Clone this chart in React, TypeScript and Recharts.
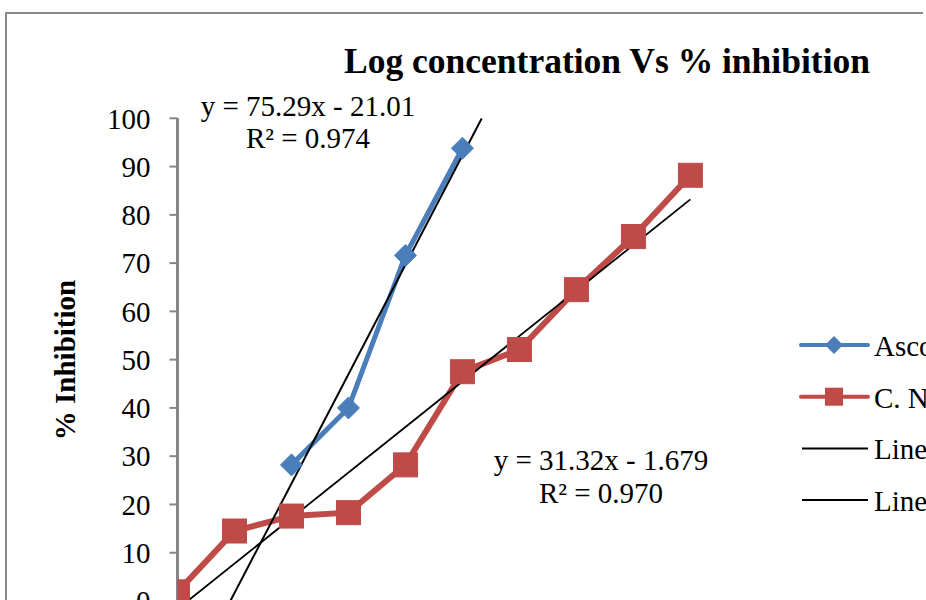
import { ComposedChart, Line, XAxis, YAxis, Legend } from 'recharts';

// log concentration (x) vs % inhibition (y)
const extractLogConc = [0, 0.301, 0.602, 0.903, 1.204, 1.505, 1.806, 2.107, 2.408, 2.709];
const extractInhibition = [1.9, 14.5, 17.6, 18.3, 28.2, 47.5, 52.1, 64.5, 75.5, 88.2];
const ascorbicLogConc = [0.602, 0.903, 1.204, 1.505];
const ascorbicInhibition = [28.2, 40.0, 71.6, 93.8];

// trendline end points
const ascorbicTrendX = [0.279, 1.607];
const ascorbicTrendY = [0, 100];
const extractTrendX = [0, 2.709];
const extractTrendY = [-1.68, 83.2];

const yTicks = [0, 10, 20, 30, 40, 50, 60, 70, 80, 90, 100];
const xTicks = [0, 0.5, 1, 1.5, 2, 2.5, 3];

const seriesNames = ['Ascorbic acid', 'C. Nucifera', 'Linear (Ascorbic acid)', 'Linear (C. Nucifera)'];
const equations = [
  ['y = 75.29x - 21.01', 'R² = 0.974'],
  ['y = 31.32x - 1.679', 'R² = 0.970'],
];

const BLUE = '#4A7EBB';
const RED = '#BE4B48';
const FONT = '"Liberation Serif", "Times New Roman", serif';

const toPoints = (xs: number[], ys: number[]) => xs.map((x, i) => ({ x, y: ys[i] }));

const ascorbicData = toPoints(ascorbicLogConc, ascorbicInhibition);
const extractData = toPoints(extractLogConc, extractInhibition);
const ascorbicTrend = toPoints(ascorbicTrendX, ascorbicTrendY);
const extractTrend = toPoints(extractTrendX, extractTrendY);

function DiamondDot(props: any) {
  const { cx, cy, index } = props;
  if (cx == null || cy == null) return null;
  const r = 11;
  return (
    <path
      key={'d' + index}
      d={`M${cx},${cy - r}L${cx + r},${cy}L${cx},${cy + r}L${cx - r},${cy}Z`}
      fill={BLUE}
      stroke={BLUE}
      strokeWidth={1}
    />
  );
}

function SquareDot(props: any) {
  const { cx, cy, index } = props;
  if (cx == null || cy == null) return null;
  const s = 24;
  return <rect key={'s' + index} x={cx - s / 2} y={cy - s / 2} width={s} height={s} fill={RED} stroke={RED} strokeWidth={1} />;
}

function ChartLegend(props: any) {
  const items = props.payload || [];
  return (
    <svg width={200} height={220} style={{ overflow: 'visible' }}>
      {items.map((entry: any, i: number) => {
        const y = 25 + i * 51.7;
        const marker =
          entry.type === 'diamond' ? (
            <path d={`M35,${y - 9}L44,${y}L35,${y + 9}L26,${y}Z`} fill={BLUE} />
          ) : entry.type === 'square' ? (
            <rect x={26} y={y - 9} width={18} height={18} fill={RED} />
          ) : null;
        const isTrend = entry.type === 'line';
        return (
          <g key={i}>
            <line
              x1={isTrend ? 3 : 2}
              x2={69}
              y1={y}
              y2={y}
              stroke={entry.color}
              strokeWidth={isTrend ? 2 : 4}
              strokeLinecap={isTrend ? 'butt' : 'round'}
            />
            {marker}
            <text x={75} y={y + 11} fontFamily={FONT} fontSize={29} fill="#000">
              {entry.value}
            </text>
          </g>
        );
      })}
    </svg>
  );
}

export default function App() {
  return (
    <div style={{ position: 'fixed', left: 0, top: 0, width: 926, height: 600, overflow: 'hidden', background: '#fff' }}>
      {/* chart frame: only top and left edges are visible */}
      <div
        style={{
          position: 'absolute',
          left: 5,
          top: 12,
          width: 916,
          height: 700,
          borderTop: '2px solid #8a8a8a',
          borderLeft: '2px solid #8a8a8a',
        }}
      />
      <div style={{ position: 'absolute', left: 0, top: 0 }}>
        <ComposedChart width={1000} height={700} margin={{ top: 118.3, right: 254.5, bottom: 69, left: 117.5 }}>
          <XAxis
            type="number"
            dataKey="x"
            domain={[0, 3]}
            ticks={xTicks}
            allowDataOverflow
            stroke="#868686"
            tick={{ fontFamily: FONT, fontSize: 29, fill: '#000' }}
            height={30}
          />
          <YAxis
            type="number"
            dataKey="y"
            domain={[0, 100]}
            ticks={yTicks}
            allowDataOverflow
            width={60}
            axisLine={{ stroke: '#868686', strokeWidth: 3 }}
            tickLine={{ stroke: '#868686', strokeWidth: 2 }}
            tickSize={8}
            tickMargin={19}
            tick={{ fontFamily: FONT, fontSize: 29, fill: '#000' }}
          />
          <Legend
            layout="vertical"
            align="center"
            verticalAlign="middle"
            wrapperStyle={{ left: 799, top: 320, width: 200 }}
            content={<ChartLegend />}
          />
          <Line
            data={ascorbicData}
            dataKey="y"
            name={seriesNames[0]}
            stroke={BLUE}
            strokeWidth={5}
            dot={<DiamondDot />}
            legendType="diamond"
            isAnimationActive={false}
          />
          <Line
            data={extractData}
            dataKey="y"
            name={seriesNames[1]}
            stroke={RED}
            strokeWidth={6}
            dot={<SquareDot />}
            legendType="square"
            isAnimationActive={false}
          />
          <Line
            data={ascorbicTrend}
            dataKey="y"
            name={seriesNames[2]}
            stroke="#000"
            strokeWidth={2}
            dot={false}
            legendType="line"
            isAnimationActive={false}
          />
          <Line
            data={extractTrend}
            dataKey="y"
            name={seriesNames[3]}
            stroke="#000"
            strokeWidth={1.8}
            dot={false}
            legendType="line"
            isAnimationActive={false}
          />
        </ComposedChart>
      </div>
      <svg width={926} height={600} style={{ position: 'absolute', left: 0, top: 0, pointerEvents: 'none' }}>
        <text x={607} y={73} textAnchor="middle" fontFamily={FONT} fontSize={35.5} fontWeight="bold" fill="#000">
          Log concentration Vs % inhibition
        </text>
        <text
          x={75}
          y={360}
          transform="rotate(-90, 75, 360)"
          textAnchor="middle"
          fontFamily={FONT}
          fontSize={29}
          fontWeight="bold"
          fill="#000"
        >
          % Inhibition
        </text>
        <text x={308} y={116} textAnchor="middle" fontFamily={FONT} fontSize={29} fill="#000">
          {equations[0][0]}
        </text>
        <text x={308} y={148} textAnchor="middle" fontFamily={FONT} fontSize={29} fill="#000">
          {equations[0][1]}
        </text>
        <text x={601} y={470} textAnchor="middle" fontFamily={FONT} fontSize={29} fill="#000">
          {equations[1][0]}
        </text>
        <text x={601} y={503} textAnchor="middle" fontFamily={FONT} fontSize={29} fill="#000">
          {equations[1][1]}
        </text>
      </svg>
    </div>
  );
}
